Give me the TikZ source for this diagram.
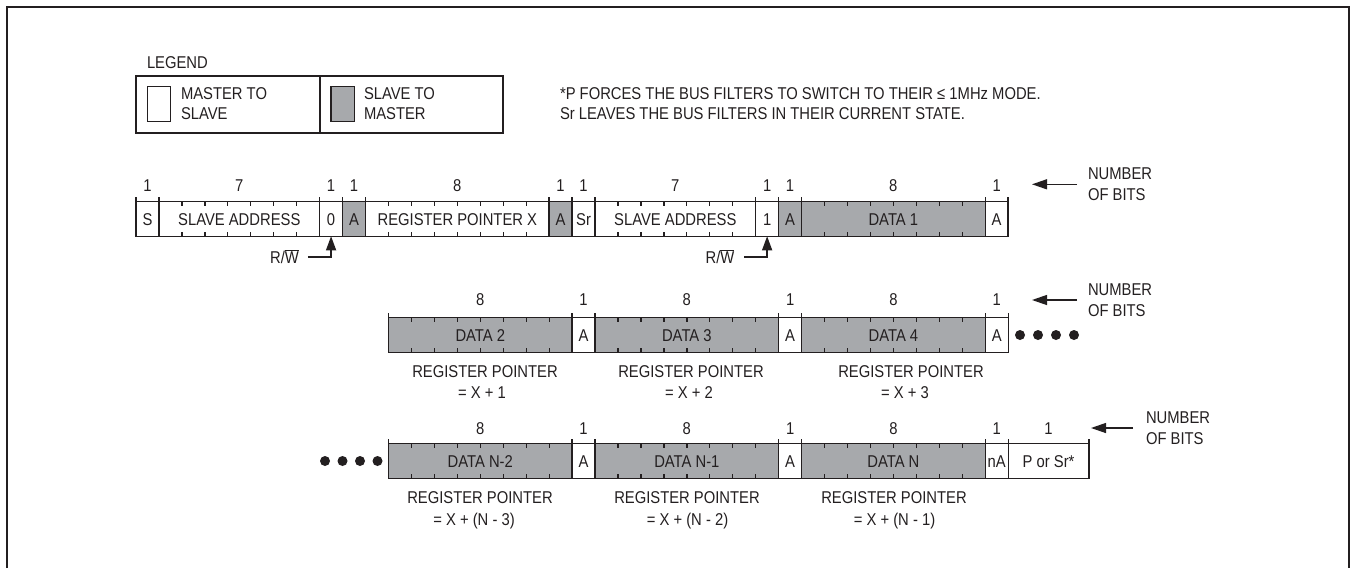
\documentclass[tikz,border=0pt]{standalone}
\usepackage{fontspec}
\setmainfont{Liberation Sans}[FakeStretch=0.865]
\usetikzlibrary{arrows.meta}
\definecolor{lc}{HTML}{231F20}
\definecolor{gc}{HTML}{A7A9AC}
\newcommand\mkcell[8]{%
  \node[#5, minimum width=#4] (#1) at (#2,#3) {#6};
  \draw[tick] (#1.north west) -- ++(0,-5) (#1.north east) -- ++(0,-5);
  \node[lbl] (#1n) at ({#2+#4/2},#8) {#7};
}
\newcommand\mkticks[2]{%
  \foreach \k in {1,...,#2}{\ifnum\k<#2\relax
    \draw[tick] ([xshift=\k*22.95pt]#1.north west) -- ++(0,4.5)
                ([xshift=\k*22.95pt]#1.south west) -- ++(0,-4.5);\fi}%
}
\begin{document}
\begin{tikzpicture}[x=1pt,y=-1pt,
  every node/.style={font=\fontsize{17.1}{19}\selectfont, text=lc, inner sep=0pt, outer sep=0pt},
  lbl/.style={text height=12.2pt, text depth=0pt},
  bitcell/.style={draw=lc, line width=1.3pt, minimum height=34.5pt, anchor=west, lbl},
  wcell/.style={bitcell, fill=white},
  gcell/.style={bitcell, fill=gc},
  tick/.style={draw=lc, line width=1.3pt},
  arr/.style={draw=lc, line width=1.3pt, -{Triangle[length=14pt,width=10pt]}},
  dot/.style={fill=lc},
]
\useasboundingbox (0,0) rectangle (1351,568);
\draw[lc, line width=2.3pt] (7,568) -- (7,7) -- (1349,7) -- (1349,568);

% legend
\node[lbl, anchor=west] (lgtitle) at (147,62.5) {LEGEND};
\node[draw=lc, line width=1.3pt, minimum width=184, minimum height=57, anchor=north west] (lgL) at (136,76) {};
\node[draw=lc, line width=1.3pt, minimum width=183, minimum height=57, anchor=north west] (lgR) at (320,76) {};
\node[draw=lc, line width=1.2pt, fill=white, minimum width=23.4, minimum height=35, anchor=north west] (sqW) at (147.3,86.7) {};
\node[draw=lc, line width=1.2pt, fill=gc, minimum width=23.4, minimum height=35, anchor=north west] (sqG) at (331,86.7) {};
\node[lbl, anchor=west] (lgt1) at (181,93) {MASTER TO};
\node[lbl, anchor=west] (lgt2) at (181,113.7) {SLAVE};
\node[lbl, anchor=west] (lgt3) at (364,93) {SLAVE TO};
\node[lbl, anchor=west] (lgt4) at (364,113.7) {MASTER};

\node[lbl, anchor=west] (note1) at (560,93) {*P FORCES THE BUS FILTERS TO SWITCH TO THEIR ≤ 1MHz MODE.};
\node[lbl, anchor=west] (note2) at (560,113) {Sr LEAVES THE BUS FILTERS IN THEIR CURRENT STATE.};

% row 1
\mkcell{c1}{136}{219}{22.95}{wcell}{S}{1}{185.5}
\mkcell{c2}{158.95}{219}{160.65}{wcell}{SLAVE ADDRESS}{7}{185.5}
\mkticks{c2}{7}
\mkcell{c3}{319.6}{219}{22.95}{wcell}{0}{1}{185.5}
\mkcell{c4}{342.55}{219}{22.95}{gcell}{A}{1}{185.5}
\mkcell{c5}{365.5}{219}{183.6}{wcell}{REGISTER POINTER X}{8}{185.5}
\mkticks{c5}{8}
\mkcell{c6}{549.1}{219}{22.95}{gcell}{A}{1}{185.5}
\mkcell{c7}{572.05}{219}{22.95}{wcell}{Sr}{1}{185.5}
\mkcell{c8}{595}{219}{160.65}{wcell}{SLAVE ADDRESS}{7}{185.5}
\mkticks{c8}{7}
\mkcell{c9}{755.65}{219}{22.95}{wcell}{1}{1}{185.5}
\mkcell{c10}{778.6}{219}{22.95}{gcell}{A}{1}{185.5}
\mkcell{c11}{801.55}{219}{183.6}{gcell}{DATA 1}{8}{185.5}
\mkticks{c11}{8}
\mkcell{c12}{985.15}{219}{22.95}{wcell}{A}{1}{185.5}

% R/W arrows
\node[lbl] (rw1) at (284.5,257) {R/$\overline{\mbox{W}}$};
\node[lbl] (rw2) at (720,257) {R/$\overline{\mbox{W}}$};
\draw[arr] ([xshift=9pt]rw1.east) -| (c3.south);
\draw[arr] ([xshift=10pt]rw2.east) -| (c9.south);

% number of bits row 1
\node[lbl, anchor=west] (nb1a) at (1088,173.5) {NUMBER};
\node[lbl, anchor=west] (nb1b) at (1088,194.5) {OF BITS};
\coordinate (nb1t) at (1077,184.3);
\coordinate (nb1h) at (1032,184.3);
\draw[arr, -{Triangle[length=15pt,width=10pt]}] (nb1t) -- (nb1h);

% row 2
\mkcell{d1}{388.5}{335}{183.6}{gcell}{DATA 2}{8}{299}
\mkticks{d1}{8}
\mkcell{d2}{572.1}{335}{22.95}{wcell}{A}{1}{299}
\mkcell{d3}{595.05}{335}{183.6}{gcell}{DATA 3}{8}{299}
\mkticks{d3}{8}
\mkcell{d4}{778.65}{335}{22.95}{wcell}{A}{1}{299}
\mkcell{d5}{801.6}{335}{183.6}{gcell}{DATA 4}{8}{299}
\mkticks{d5}{8}
\mkcell{d6}{985.2}{335}{22.95}{wcell}{A}{1}{299}
\fill[dot] (1020,335) circle (5) (1038,335) circle (5) (1056,335) circle (5) (1074,335) circle (5);

\node[lbl] (rp2a) at (485,371) {REGISTER POINTER};
\node[lbl] (rp2b) at (482,392) {= X + 1};
\node[lbl] (rp3a) at (691,371) {REGISTER POINTER};
\node[lbl] (rp3b) at (689,392) {= X + 2};
\node[lbl] (rp4a) at (911,371) {REGISTER POINTER};
\node[lbl] (rp4b) at (905,392) {= X + 3};

\node[lbl, anchor=west] (nb2a) at (1088,289.5) {NUMBER};
\node[lbl, anchor=west] (nb2b) at (1088,310.5) {OF BITS};
\coordinate (nb2t) at (1077,300);
\coordinate (nb2h) at (1032,300);
\draw[arr, -{Triangle[length=15pt,width=10pt]}] (nb2t) -- (nb2h);

% row 3
\fill[dot] (325,461) circle (5) (342.5,461) circle (5) (360,461) circle (5) (377.5,461) circle (5);
\mkcell{e1}{388.5}{461}{183.6}{gcell}{DATA N-2}{8}{428}
\mkticks{e1}{8}
\mkcell{e2}{572.1}{461}{22.95}{wcell}{A}{1}{428}
\mkcell{e3}{595.05}{461}{183.6}{gcell}{DATA N-1}{8}{428}
\mkticks{e3}{8}
\mkcell{e4}{778.65}{461}{22.95}{wcell}{A}{1}{428}
\mkcell{e5}{801.6}{461}{183.6}{gcell}{DATA N}{8}{428}
\mkticks{e5}{8}
\mkcell{e6}{985.2}{461}{22.95}{wcell}{nA}{1}{428}
\mkcell{e7}{1008.15}{461}{80.85}{wcell}{P or Sr*}{1}{428}

\node[lbl] (rq1a) at (480,497) {REGISTER POINTER};
\node[lbl] (rq1b) at (474,519) {= X + (N - 3)};
\node[lbl] (rq2a) at (687,497) {REGISTER POINTER};
\node[lbl] (rq2b) at (687.5,519) {= X + (N - 2)};
\node[lbl] (rq3a) at (894,497) {REGISTER POINTER};
\node[lbl] (rq3b) at (894.5,519) {= X + (N - 1)};

\node[lbl, anchor=west] (nb3a) at (1146,417) {NUMBER};
\node[lbl, anchor=west] (nb3b) at (1146,438) {OF BITS};
\coordinate (nb3t) at (1133,428);
\coordinate (nb3h) at (1091,428);
\draw[arr, -{Triangle[length=15pt,width=10pt]}] (nb3t) -- (nb3h);
\end{tikzpicture}
\end{document}
